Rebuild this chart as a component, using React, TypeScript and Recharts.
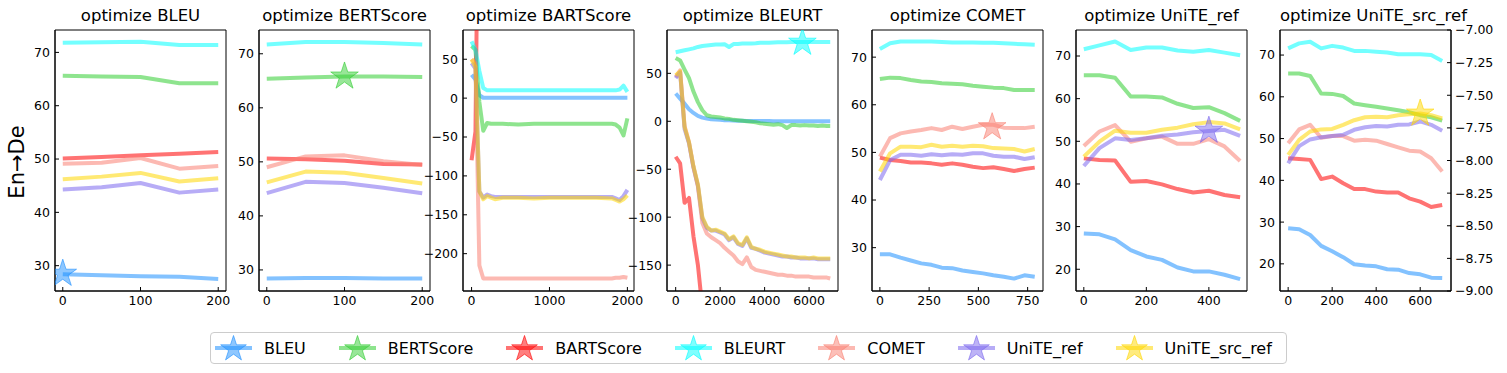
import React from 'react';
import { ComposedChart, Line, Scatter, XAxis, YAxis, ReferenceArea } from 'recharts';

const METRICS = ['BLEU', 'BERTScore', 'BARTScore', 'BLEURT', 'COMET', 'UniTE_ref', 'UniTE_src_ref'];
const COLORS = ['#1e90ff', '#32cd32', '#ff0000', '#00ffff', '#fa8072', '#7b68ee', '#ffd700'];

// optimize BLEU
const bleuX = [0, 50, 100, 150, 200];
const bleuSeries = [
  [28.4, 28.2, 28.0, 27.9, 27.5],
  [65.6, 65.5, 65.4, 64.2, 64.2],
  [50.1, 50.4, 50.7, 51.0, 51.3],
  [71.8, 71.9, 72.0, 71.4, 71.4],
  [49.1, 49.3, 50.2, 48.2, 48.7],
  [44.3, 44.7, 45.5, 43.7, 44.3],
  [46.2, 46.7, 47.4, 45.8, 46.4],
];

// optimize BERTScore
const bertX = [0, 50, 100, 150, 200];
const bertSeries = [
  [28.4, 28.5, 28.5, 28.4, 28.4],
  [65.4, 65.6, 65.8, 65.8, 65.7],
  [50.6, 50.5, 50.2, 49.6, 49.5],
  [71.7, 72.2, 72.2, 72.0, 71.7],
  [49.0, 51.0, 51.2, 50.1, 49.4],
  [44.2, 46.3, 46.1, 45.2, 44.2],
  [46.2, 48.2, 48.0, 47.0, 46.0],
];

// optimize BARTScore
const bartX = [0, 50, 100, 150, 200, 250, 300, 400, 600, 800, 1000, 1200, 1400, 1600, 1800, 1850, 1900, 1950, 2000];
const bartSeries = [
  [30, 24, 4, 0.5, 0.5, 0.5, 0.5, 0.5, 0.5, 0.5, 0.5, 0.5, 0.5, 0.5, 0.5, 0.5, 0.5, 0.5, 0.5],
  [67, 62, -5, -42, -32, -33, -33, -33, -34, -33, -33, -33, -33, -33, -33, -34, -38, -48, -26],
  [-80, -43, 420, null, null, null, null, null, null, null, null, null, null, null, null, null, null, null, null],
  [73, 62, 35, 13, 10, 10, 10, 10, 10, 10, 10, 10, 10, 10, 10, 10, 11, 16, 8],
  [50, 45, -215, -232, -232, -232, -232, -232, -232, -232, -232, -232, -232, -232, -232, -231, -231, -230, -231],
  [45, 38, -120, -128, -124, -126, -127, -127, -127, -127, -127, -127, -127, -127, -127, -129, -131, -126, -118],
  [50, 40, -120, -130, -126, -128, -130, -128, -128, -129, -128, -128, -128, -128, -129, -131, -133, -130, -125],
];

// optimize BLEURT
const bleurtX = [0, 200, 400, 600, 800, 1000, 1200, 1400, 1600, 1800, 2000, 2200, 2400, 2600, 2800, 3000, 3200, 3400,
  3600, 3800, 4000, 4200, 4400, 4600, 4800, 5000, 5200, 5400, 5600, 5800, 6000, 6200, 6400, 6600, 6800, 6950];
const bleurtSeries = [
  [29, 23.7, 18.4, 12.5, 8.7, 5.6, 3.8, 2.8, 2, 1.8, 1.5, 1.2, 1, 0.8, 0.6, 0.5, 0.4, 0.3, 0.3, 0.2, 0.2, 0.2, 0.1,
    0.1, 0.1, 0.1, 0, 0, 0, 0, 0, 0, 0, 0, 0, 0],
  [66, 63.5, 54, 45, 31, 20, 11.5, 6.3, 5, 4.5, 4, 3, 2.5, 1.5, 1, 0.5, 0, -0.5, -1, -2, -2.5, -3, -3.5, -3, -4, -7,
    -4, -4, -4.5, -4, -4.5, -4.5, -5, -4.5, -5, -5],
  [-37, -44, -85, -80, -120, -150, -195, null, null, null, null, null, null, null, null, null, null, null, null, null,
    null, null, null, null, null, null, null, null, null, null, null, null, null, null, null, null],
  [72, 73, 74, 75, 76, 77.5, 78.5, 79, 79.5, 80, 80, 80.3, 77.5, 80.5, 80.7, 81, 81, 81, 81.3, 81.8, 82, 82, 82.2,
    82.3, 82.5, 82.5, 82.6, 82.6, 82.7, 82.7, 82.7, 82.8, 82.8, 82.8, 82.8, 82.8],
  [46, 53, -5, -22, -48, -68, -106, -117, -121, -124, -127, -132, -136, -140, -146, -149, -142, -152, -155, -156, -157,
    -158, -159, -160, -160, -161, -161, -162, -162, -162, -162, -163, -163, -163, -163, -164],
  [45, 51, -8, -23, -48, -67, -101, -111, -114, -114, -116, -118, -124, -121, -128, -130, -122, -132, -133, -135, -137,
    -138, -139, -140, -141, -141, -142, -142, -143, -143, -143, -143, -144, -144, -144, -144],
  [48, 52, -6, -22, -47, -66, -100, -110, -114, -113, -115, -117, -123, -120, -127, -129, -121, -131, -133, -134, -136,
    -137, -138, -139, -140, -141, -141, -142, -142, -142, -143, -142, -143, -143, -143, -143],
];

// optimize COMET
const cometX = [0, 52, 105, 157, 210, 262, 314, 367, 419, 472, 524, 576, 629, 681, 734, 786];
const cometSeries = [
  [28.6, 28.6, 27.9, 27.3, 26.7, 26.4, 25.8, 25.7, 25.2, 24.9, 24.6, 24.2, 23.9, 23.5, 24.2, 23.9],
  [65.4, 65.7, 65.6, 65.2, 64.9, 64.8, 64.5, 64.4, 64.3, 64.0, 63.8, 63.6, 63.5, 63.1, 63.1, 63.1],
  [48.9, 48.4, 48.2, 47.9, 47.9, 47.7, 47.4, 47.7, 47.4, 47.0, 46.7, 46.9, 46.5, 46.1, 46.5, 46.8],
  [71.7, 72.9, 73.3, 73.3, 73.3, 73.3, 73.2, 73.1, 73.1, 73.1, 73.0, 73.0, 72.9, 72.8, 72.7, 72.6],
  [49.1, 53.0, 54.0, 54.4, 54.7, 55.1, 54.7, 55.4, 54.9, 55.4, 55.8, 55.8, 55.2, 55.1, 55.1, 55.4],
  [44.2, 48.4, 49.5, 49.5, 49.3, 49.6, 49.4, 49.6, 49.5, 49.8, 49.8, 49.3, 49.1, 49.1, 48.6, 49.0],
  [46.0, 49.8, 51.2, 51.2, 51.1, 51.6, 51.2, 51.4, 51.2, 51.4, 51.3, 50.9, 50.8, 50.7, 50.2, 50.7],
];

// optimize UniTE_ref
const uniteRefX = [0, 50, 100, 150, 200, 250, 300, 350, 400, 450, 500];
const uniteRefSeries = [
  [28.4, 28.2, 27.0, 24.5, 23.0, 22.2, 20.4, 19.5, 19.5, 18.7, 17.7],
  [65.5, 65.5, 64.9, 60.5, 60.5, 60.3, 58.8, 57.8, 58.0, 56.6, 54.8],
  [46.0, 45.6, 45.5, 40.5, 40.7, 39.9, 38.8, 38.0, 38.4, 37.4, 36.9],
  [71.6, 72.5, 73.4, 71.4, 72.0, 72.0, 71.3, 71.0, 71.4, 70.8, 70.2],
  [48.9, 52.3, 53.8, 49.9, 50.7, 51.1, 49.4, 49.4, 50.5, 48.8, 45.4],
  [44.2, 48.4, 50.7, 50.3, 50.7, 51.3, 51.6, 52.1, 52.4, 52.7, 51.3],
  [46.4, 49.9, 52.5, 52.0, 52.0, 52.7, 53.2, 54.0, 54.5, 54.2, 52.8],
];

// optimize UniTE_src_ref
const uniteSrcRefX = [0, 50, 100, 150, 200, 250, 300, 350, 400, 450, 500, 550, 600, 650, 700];
const uniteSrcRefSeries = [
  [28.5, 28.3, 26.9, 24.3, 23.0, 21.6, 19.9, 19.6, 19.4, 18.7, 18.6, 17.8, 17.5, 16.7, 16.6],
  [65.6, 65.6, 65.0, 60.8, 60.7, 60.2, 58.4, 58.0, 57.6, 57.2, 56.8, 56.3, 55.6, 55.1, 54.3],
  [45.3, 45.1, 44.9, 40.3, 40.9, 39.3, 37.9, 37.9, 37.3, 37.1, 37.1, 35.7, 34.9, 33.6, 34.1],
  [71.6, 72.8, 73.2, 71.6, 72.2, 71.8, 71.0, 71.0, 70.8, 70.6, 70.2, 70.2, 70.2, 70.0, 68.6],
  [48.9, 52.2, 53.3, 50.2, 50.6, 50.6, 49.5, 49.7, 49.5, 48.7, 47.9, 47.1, 46.9, 45.3, 42.1],
  [44.1, 48.2, 49.8, 50.3, 50.6, 50.9, 52.1, 52.7, 53.0, 52.9, 53.3, 53.4, 54.1, 53.3, 51.9],
  [46.1, 49.7, 51.7, 52.2, 52.3, 53.3, 54.4, 55.1, 55.2, 55.1, 55.6, 55.8, 56.0, 55.6, 54.8],
];

// best point of the optimised metric in each panel (null = off chart)
const starX = [0, 100, null, 5700, 570, 400, 600];
const starY = [28.5, 65.8, null, 82, 55.3, 52.5, 56];

const rightTicks = [-9, -8.75, -8.5, -8.25, -8, -7.75, -7.5, -7.25, -7];

const PLOT_W = 171;
const PLOT_LEFTS = [55, 259, 463, 667, 872, 1076, 1280];

const panels = [
  { x: bleuX, series: bleuSeries, xDomain: [-10, 210], yDomain: [25.25, 74.2], xTicks: [0, 100, 200], yTicks: [30, 40, 50, 60, 70] },
  { x: bertX, series: bertSeries, xDomain: [-10, 210], yDomain: [26.1, 74.4], xTicks: [0, 100, 200], yTicks: [30, 40, 50, 60, 70] },
  { x: bartX, series: bartSeries, xDomain: [-110, 2085], yDomain: [-248, 87.6], xTicks: [0, 1000, 2000], yTicks: [-200, -150, -100, -50, 0, 50] },
  { x: bleurtX, series: bleurtSeries, xDomain: [-390, 7300], yDomain: [-177, 95.2], xTicks: [0, 2000, 4000, 6000], yTicks: [-150, -100, -50, 0, 50] },
  { x: cometX, series: cometSeries, xDomain: [-40, 828], yDomain: [20.9, 75.7], xTicks: [0, 250, 500, 750], yTicks: [30, 40, 50, 60, 70] },
  { x: uniteRefX, series: uniteRefSeries, xDomain: [-25, 522], yDomain: [14.9, 76.1], xTicks: [0, 200, 400], yTicks: [20, 30, 40, 50, 60, 70] },
  { x: uniteSrcRefX, series: uniteSrcRefSeries, xDomain: [-37, 740], yDomain: [13.5, 76], xTicks: [0, 200, 400, 600], yTicks: [20, 30, 40, 50, 60, 70] },
];

const minus = (v: number) => String(v).replace('-', '\u2212');
const tickStyle = { fontSize: 12.5, fill: '#000' };

function starPath(cx: number, cy: number, R: number) {
  const r = R * 0.382;
  let d = '';
  for (let i = 0; i < 10; i++) {
    const rad = i % 2 === 0 ? R : r;
    const a = -Math.PI / 2 + (i * Math.PI) / 5;
    d += (i === 0 ? 'M' : 'L') + (cx + rad * Math.cos(a)).toFixed(2) + ',' + (cy + rad * Math.sin(a)).toFixed(2);
  }
  return d + 'Z';
}

function Panel({ idx }: { idx: number }) {
  const p = panels[idx];
  const last = idx === panels.length - 1;
  const rightW = last ? 60 : 0;
  const padR = last ? 1 : 16;
  const rows = p.x.map((x, i) => {
    const row: any = { x };
    METRICS.forEach((m, k) => {
      row[m] = p.series[k][i];
    });
    return row;
  });
  const hasStar = starX[idx] != null;
  const color = COLORS[idx];

  return (
    <div style={{ position: 'absolute', left: PLOT_LEFTS[idx] - 50, top: 0 }}>
      <ComposedChart
        width={50 + PLOT_W + rightW + padR}
        height={373}
        data={rows}
        margin={{ top: 30, right: padR, left: 0, bottom: 60 }}
      >
        <XAxis
          dataKey="x"
          type="number"
          domain={p.xDomain}
          ticks={p.xTicks}
          interval={0}
          allowDataOverflow
          height={22}
          tickSize={-4}
          tickMargin={9}
          tick={tickStyle}
          stroke="#000"
        />
        <YAxis
          type="number"
          domain={p.yDomain}
          ticks={p.yTicks}
          interval={0}
          allowDataOverflow
          width={50}
          tickSize={-4}
          tickMargin={9}
          tick={tickStyle}
          tickFormatter={minus}
          stroke="#000"
        />
        {last && (
          <YAxis
            yAxisId="right"
            orientation="right"
            type="number"
            domain={[-9, -7]}
            ticks={rightTicks}
            interval={0}
            allowDataOverflow
            width={60}
            tickSize={-4}
            tickMargin={8}
            tick={tickStyle}
            tickFormatter={(v: number) => v.toFixed(2).replace('-', '\u2212')}
            stroke="#000"
          />
        )}
        {METRICS.map((m, k) => (
          <Line
            key={m}
            type="linear"
            dataKey={m}
            stroke={COLORS[k]}
            strokeOpacity={0.55}
            strokeWidth={4}
            strokeLinejoin="round"
            dot={false}
            activeDot={false}
            connectNulls={false}
            isAnimationActive={false}
          />
        ))}
        {hasStar && (
          <Scatter
            data={[{ x: starX[idx], y: starY[idx] }]}
            dataKey="y"
            isAnimationActive={false}
            shape={(props: any) => (
              <path
                d={starPath(props.cx, props.cy, 14.5)}
                fill={color}
                fillOpacity={0.5}
                stroke={color}
                strokeOpacity={0.6}
                strokeWidth={1}
              />
            )}
          />
        )}
        <ReferenceArea
          x1={p.xDomain[0]}
          x2={p.xDomain[1]}
          y1={p.yDomain[0]}
          y2={p.yDomain[1]}
          fill="none"
          fillOpacity={0}
          stroke="#000"
          strokeWidth={1}
          ifOverflow="visible"
        />
      </ComposedChart>
      <div
        style={{
          position: 'absolute',
          left: 50,
          top: 5,
          width: PLOT_W,
          textAlign: 'center',
          fontSize: 16.5,
          lineHeight: '22px',
          whiteSpace: 'nowrap',
        }}
      >
        optimize {METRICS[idx]}
      </div>
    </div>
  );
}

function LegendBox() {
  return (
    <div
      style={{
        position: 'absolute',
        left: 210,
        top: 332,
        width: 1077,
        height: 32,
        boxSizing: 'border-box',
        border: '1px solid #cccccc',
        borderRadius: 4,
        display: 'flex',
        alignItems: 'center',
        paddingLeft: 4,
        fontSize: 16,
      }}
    >
      {METRICS.map((m, k) => (
        <div key={m} style={{ display: 'flex', alignItems: 'center', marginRight: 33 }}>
          <svg width={37} height={30} style={{ marginRight: 12 }}>
            <line x1={0} x2={37} y1={15} y2={15} stroke={COLORS[k]} strokeOpacity={0.55} strokeWidth={4} />
            <path
              d={starPath(18.5, 16, 13.5)}
              fill={COLORS[k]}
              fillOpacity={0.5}
              stroke={COLORS[k]}
              strokeOpacity={0.6}
              strokeWidth={1}
            />
          </svg>
          <span>{m}</span>
        </div>
      ))}
    </div>
  );
}

export default function App() {
  return (
    <div
      style={{
        position: 'absolute',
        left: 0,
        top: 0,
        width: 1507,
        height: 373,
        background: '#fff',
        fontFamily: '"DejaVu Sans", sans-serif',
        color: '#000',
      }}
    >
      <div
        style={{
          position: 'absolute',
          left: 17,
          top: 162,
          transform: 'translate(-50%, -50%) rotate(-90deg)',
          fontSize: 21,
          whiteSpace: 'nowrap',
        }}
      >
        En→De
      </div>
      {panels.map((_, i) => (
        <Panel key={i} idx={i} />
      ))}
      <LegendBox />
    </div>
  );
}
